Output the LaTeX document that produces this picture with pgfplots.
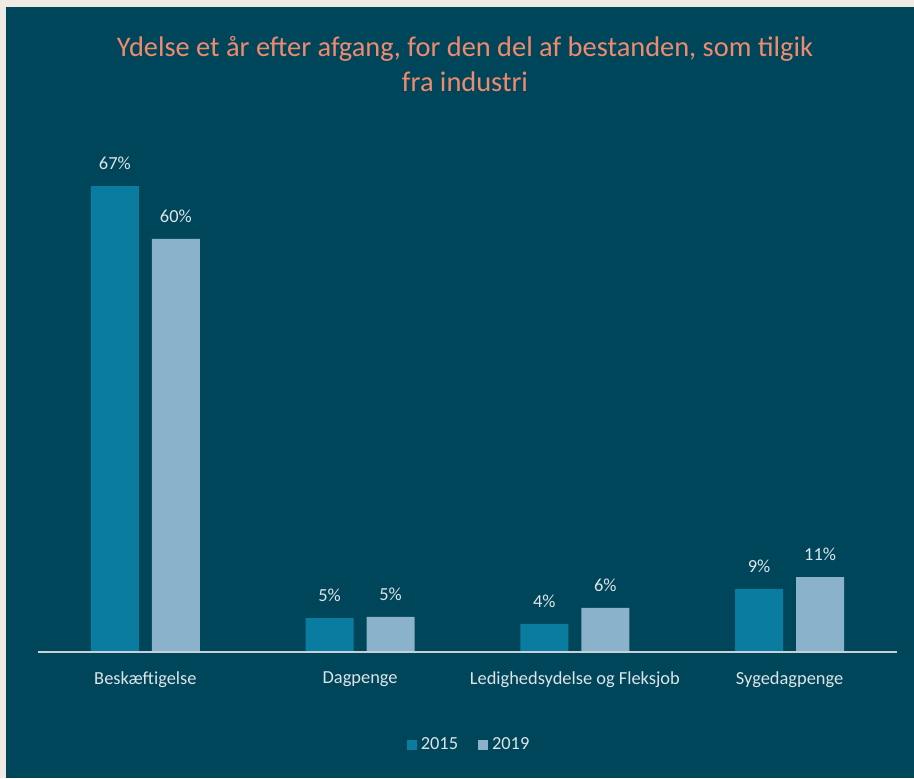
\documentclass[border=0pt]{standalone}
\usepackage{fontspec}
\setmainfont{Carlito}
\usepackage{pgfplots}
\pgfplotsset{compat=1.18}

\definecolor{pagec}{HTML}{EFEBE4}
\definecolor{bgc}{HTML}{00465A}
\definecolor{titlec}{HTML}{F08A6E}
\definecolor{textc}{HTML}{DCE4E8}
\definecolor{linec}{HTML}{C8D2D6}
\definecolor{c2015}{HTML}{0A7CA0}
\definecolor{c2019}{HTML}{8AB2CB}

\begin{document}
\begin{tikzpicture}
% page and panel
\fill[pagec] (0,0) rectangle (457pt,389pt);
\fill[bgc] (3pt,0) rectangle (457pt,385.5pt);
\node[text=titlec, font=\fontsize{14.2}{17.5}\selectfont, align=center]
  at (232.5pt,357pt) {Ydelse et år efter afgang, for den del af bestanden, som tilgik\\fra industri};

\begin{axis}[
  at={(19pt,63pt)}, anchor=south west,
  scale only axis,
  width=429.5pt, height=260pt,
  xmin=-0.5, xmax=3.5, ymin=0, ymax=75,
  ybar=6.5pt, bar width=24pt,
  axis line style={draw=none},
  ytick=\empty,
  xtick={0,1,2,3},
  xticklabels={Beskæftigelse, Dagpenge, Ledighedsydelse og Fleksjob, Sygedagpenge},
  major tick length=0pt,
  tick label style={font=\fontsize{9.2}{11}\selectfont, text=textc},
  xticklabel style={inner sep=0pt, yshift=-9.5pt},
  nodes near coords={\pgfmathprintnumber[fixed,precision=0,assume math mode=true]{\pgfplotspointmeta}\%},
  every node near coord/.append style={font=\fontsize{9.2}{11}\selectfont, text=textc, anchor=south, inner sep=0pt, yshift=8pt},
  legend style={at={(0.503,-0.179)}, anchor=center, draw=none, fill=none,
    text=textc, font=\fontsize{9.2}{11}\selectfont, legend columns=2,
    /tikz/every even column/.append style={column sep=8pt}},
  legend image code/.code={\fill[#1] (0pt,-2.5pt) rectangle (5pt,2.5pt);},
]
\addplot[fill=c2015, draw=none] coordinates {(0,67.2) (1,4.9) (2,4.04) (3,9.1)};
\addlegendentry{2015}
\addplot[fill=c2019, draw=none] coordinates {(0,59.6) (1,5.05) (2,6.35) (3,10.8)};
\addlegendentry{2019}
\draw[linec, line width=1pt] (rel axis cs:0,0) -- (rel axis cs:1,0);
\end{axis}
\end{tikzpicture}
\end{document}
